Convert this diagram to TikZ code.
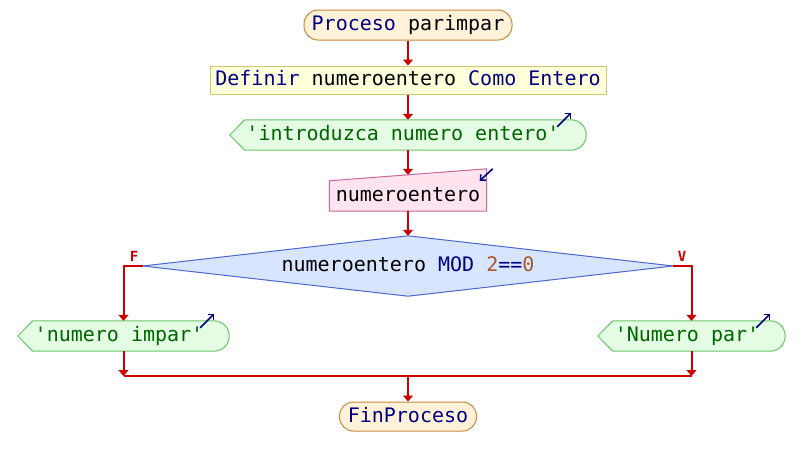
\documentclass[tikz,border=0pt]{standalone}
\usepackage{fontspec}
\setmonofont{DejaVu Sans Mono}
\usetikzlibrary{arrows.meta}
\definecolor{kw}{HTML}{000080}
\definecolor{num}{HTML}{A8582A}
\definecolor{outtxt}{HTML}{006400}
\definecolor{flow}{HTML}{CC0000}
\definecolor{procfill}{HTML}{FFF2D9}
\definecolor{procdraw}{HTML}{C48A3C}
\definecolor{deffill}{HTML}{FFFFDC}
\definecolor{defdraw}{HTML}{D2C66A}
\definecolor{outfill}{HTML}{E4FBE4}
\definecolor{outdraw}{HTML}{6CC46C}
\definecolor{infill}{HTML}{FFE4F0}
\definecolor{indraw}{HTML}{C8689A}
\definecolor{diafill}{HTML}{D8E5FF}
\definecolor{diadraw}{HTML}{4A68CC}
\tikzset{
  txt/.style={font=\ttfamily\fontsize{20pt}{22pt}\selectfont, inner sep=0pt, text height=14.5pt, text depth=3.5pt},
  procbox/.style={txt, draw=procdraw, fill=procfill, line width=1pt, rounded corners=14pt},
  defbox/.style={txt, draw=defdraw, fill=deffill, line width=1pt},
  shapeonly/.style={txt},
  flowline/.style={draw=flow, line width=2pt},
  flowarrow/.style={flowline, -{Triangle[width=10pt,length=6pt]}},
  icon/.style={draw=kw, line width=1.6pt, -{Straight Barb[width=8pt,length=4pt]}},
  branchlbl/.style={text=flow, font=\ttfamily\bfseries\fontsize{14pt}{15pt}\selectfont, inner sep=0pt},
}
\begin{document}
\begin{tikzpicture}[x=1pt,y=-1pt]
\useasboundingbox[fill=white] (0,0) rectangle (804,466);

% nodes
\node[procbox, minimum width=208pt, minimum height=30pt] (start) at (408,25) {\textcolor{kw}{Proceso} parimpar};
\node[defbox, minimum width=396pt, minimum height=28pt] (def) at (408,80) {\textcolor{kw}{Definir} numeroentero \textcolor{kw}{Como Entero}};

\node[shapeonly, minimum width=356pt, minimum height=30pt] (out1) at (408,135) {};
\node[shapeonly, minimum width=157pt, minimum height=30pt] (in1) at (408,196) {};
\node[shapeonly, minimum width=530pt, minimum height=60pt] (dia) at (408,266) {};
\node[shapeonly, minimum width=211pt, minimum height=30pt] (out2) at (123.5,336) {};
\node[shapeonly, minimum width=187pt, minimum height=30pt] (out3) at (691.5,336) {};
\node[procbox, minimum width=137pt, minimum height=29pt] (fin) at (408,416.5) {\textcolor{kw}{FinProceso}};

% output shapes
\foreach \o in {out1,out2,out3}{
  \filldraw[draw=outdraw, fill=outfill, line width=1pt]
    (\o.west) -- ([xshift=15pt]\o.north west)
    {[rounded corners=15pt] -- (\o.north east) -- (\o.south east)}
    -- ([xshift=15pt]\o.south west) -- cycle;
}
% input shape
\filldraw[draw=indraw, fill=infill, line width=1pt]
  (in1.south west) -- (in1.north west) -- ([yshift=12pt]in1.north east) -- (in1.south east) -- cycle;
% decision shape
\filldraw[draw=diadraw, fill=diafill, line width=1pt]
  (dia.west) -- (dia.north) -- (dia.east) -- (dia.south) -- cycle;

% texts
\node[txt, text=outtxt] at (403,135) {'introduzca numero entero'};
\node[txt] at (408,196) {numeroentero};
\node[txt] at (408,266) {numeroentero \textcolor{kw}{MOD} \textcolor{num}{2}\textcolor{kw}{==}\textcolor{num}{0}};
\node[txt, text=outtxt] at (119,336) {'numero impar'};
\node[txt, text=outtxt] at (687,336) {'Numero par'};

% icons
\foreach \o in {out1,out2,out3}{
  \draw[icon] ([shift={(-29,7)}]\o.north east) -- ([shift={(-15,-7)}]\o.north east);
}
\draw[icon] ([shift={(6,-12)}]in1.north east) -- ([shift={(-7,0)}]in1.north east);

% connectors
\draw[flowarrow] (start.south) -- (def.north);
\draw[flowarrow] (def.south) -- (out1.north);
\draw[flowarrow] (out1.south) -- ([yshift=6pt]in1.north);
\draw[flowarrow] (in1.south) -- (dia.north);
\draw[flowarrow] (dia.west) -| (out2.north);
\draw[flowarrow] (dia.east) -| (out3.north);
\coordinate (jl) at (out2.south |- 0,376);
\coordinate (jr) at (out3.south |- 0,376);
\coordinate (jm) at (fin.north |- 0,376);
\draw[flowarrow] (out2.south) -- (jl);
\draw[flowarrow] (out3.south) -- (jr);
\draw[flowline] (jl) -- (jr);
\draw[flowarrow] (jm) -- (fin.north);

% branch labels
\node[branchlbl] (lf) at (134,256) {F};
\node[branchlbl] (lv) at (682,256) {V};
\end{tikzpicture}
\end{document}
